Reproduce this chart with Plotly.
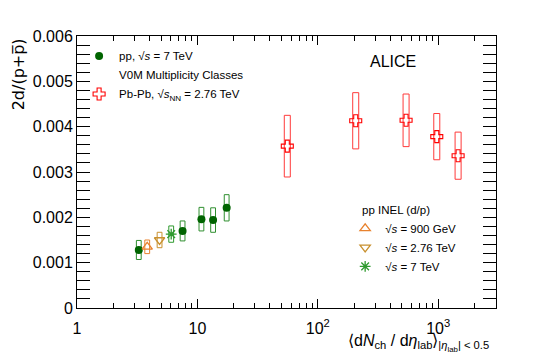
import plotly.graph_objects as go

# pp 7 TeV, V0M multiplicity classes
pp_x = [3.26, 7.53, 10.8, 13.5, 17.5]
pp_y = [0.00128, 0.00170, 0.00196, 0.00194, 0.00221]
pp_sys = [0.00021, 0.00022, 0.00026, 0.00027, 0.00029]

# pp INEL points
inel900_x = [3.83]
inel900_y = [0.00135]
inel900_sys = [0.00015]
inel276_x = [4.85]
inel276_y = [0.00150]
inel276_sys = [0.00017]
inel7_x = [6.06]
inel7_y = [0.00163]
inel7_sys = [0.00018]

# Pb-Pb 2.76 TeV
pbpb_x = [55.8, 206.5, 541, 973, 1463]
pbpb_y = [0.00357, 0.00413, 0.00414, 0.00378, 0.00336]
pbpb_sys = [0.00068, 0.00062, 0.00058, 0.00051, 0.00052]

x_ticks = [1, 10, 100, 1000]
x_ticktext = ["1", "10", "10<sup>2</sup>", "10<sup>3</sup>"]
x_minor = [m * d for d in [1, 10, 100, 1000] for m in range(2, 10) if m * d < 3000]
y_ticks = [0, 0.001, 0.002, 0.003, 0.004, 0.005, 0.006]
y_ticktext = ["0", "0.001", "0.002", "0.003", "0.004", "0.005", "0.006"]

FONT = "Liberation Sans, Arial, sans-serif"


def sys_boxes(xs, ys, errs, color, half=0.02):
    # closed rectangles around each point, width fixed in log units
    f = 10 ** half
    bx, by = [], []
    for x, y, e in zip(xs, ys, errs):
        bx += [x / f, x * f, x * f, x / f, x / f, None]
        by += [y - e, y - e, y + e, y + e, y - e, None]
    return go.Scatter(x=bx, y=by, mode="lines", line=dict(color=color, width=1),
                      showlegend=False, hoverinfo="skip")


fig = go.Figure()

fig.add_trace(sys_boxes(pp_x, pp_y, pp_sys, "#2f8f2f"))
fig.add_trace(sys_boxes(inel900_x, inel900_y, inel900_sys, "#e8822e"))
fig.add_trace(sys_boxes(inel276_x, inel276_y, inel276_sys, "#c8902e"))
fig.add_trace(sys_boxes(inel7_x, inel7_y, inel7_sys, "#2f9a2f"))
fig.add_trace(sys_boxes(pbpb_x, pbpb_y, pbpb_sys, "#ff3a3a", half=0.025))

# legend 1
fig.add_trace(go.Scatter(x=pp_x, y=pp_y, mode="markers", name="pp, √<i>s</i> = 7 TeV",
                         marker=dict(symbol="circle", size=8, color="#006400"),
                         legend="legend"))
fig.add_trace(go.Scatter(x=[None], y=[None], mode="markers", name="V0M Multiplicity Classes",
                         marker=dict(size=1, color="rgba(0,0,0,0)"), legend="legend"))
fig.add_trace(go.Scatter(x=pbpb_x, y=pbpb_y, mode="markers",
                         name="Pb-Pb, √<i>s</i><sub>NN</sub> = 2.76 TeV",
                         marker=dict(symbol="cross-open", size=10, color="#ff0000",
                                     line=dict(width=1.1, color="#ff0000")),
                         legend="legend"))

# legend 2
fig.add_trace(go.Scatter(x=inel900_x, y=inel900_y, mode="markers", name="√<i>s</i> = 900 GeV",
                         marker=dict(symbol="triangle-up-open", size=9, color="#e8822e",
                                     line=dict(width=1.3, color="#e8822e")),
                         legend="legend2"))
fig.add_trace(go.Scatter(x=inel276_x, y=inel276_y, mode="markers", name="√<i>s</i> = 2.76 TeV",
                         marker=dict(symbol="triangle-down-open", size=9, color="#c8902e",
                                     line=dict(width=1.3, color="#c8902e")),
                         legend="legend2"))
fig.add_trace(go.Scatter(x=inel7_x, y=inel7_y, mode="markers", name="√<i>s</i> = 7 TeV",
                         marker=dict(symbol="asterisk-open", size=9, color="#2f9a2f",
                                     line=dict(width=1.3, color="#2f9a2f")),
                         legend="legend2"))

# dummy trace so the minor-tick overlay axis gets drawn
fig.add_trace(go.Scatter(x=[10], y=[None], xaxis="x2", showlegend=False, hoverinfo="skip"))

# the page body adds an 8px offset, so margins are shifted up/left by 8
fig.update_layout(
    width=552, height=363,
    margin=dict(l=69, r=64, t=28, b=63),
    paper_bgcolor="white", plot_bgcolor="white",
    font=dict(family=FONT, size=16, color="black"),
    legend=dict(x=0.005, y=0.98, xanchor="left", yanchor="top",
                bgcolor="rgba(0,0,0,0)", font=dict(size=11.5), tracegroupgap=0,
                itemwidth=30),
    legend2=dict(x=0.64, y=0.346, xanchor="left", yanchor="top",
                 bgcolor="rgba(0,0,0,0)", font=dict(size=11.5), itemwidth=30),
    xaxis=dict(type="log", range=[0, 3.48], showline=True, linecolor="black",
               mirror="allticks", ticks="inside", ticklen=9, tickcolor="black",
               tickvals=x_ticks, ticktext=x_ticktext, showgrid=False, zeroline=False,
               ticklabelstandoff=6, automargin=False),
    xaxis2=dict(type="log", range=[0, 3.48], overlaying="x", anchor="y", side="bottom",
                showline=True, linecolor="black", mirror="allticks", ticks="inside",
                ticklen=5, tickcolor="black", tickvals=x_minor, showticklabels=False,
                showgrid=False, zeroline=False, automargin=False),
    yaxis=dict(range=[0, 0.006], showline=True, linecolor="black",
               mirror="allticks", ticks="inside", ticklen=13, tickcolor="black",
               tickvals=y_ticks, ticktext=y_ticktext, showgrid=False, zeroline=False,
               automargin=False,
               minor=dict(ticks="inside", ticklen=6, dtick=0.0002, tickcolor="black",
                          showgrid=False)),
    annotations=[
        dict(text="ALICE", x=0.754, y=0.905, xref="paper", yref="paper",
             xanchor="center", yanchor="middle", showarrow=False, font=dict(size=16)),
        dict(text="pp INEL (d/p)", x=0.675, y=0.36, xref="paper", yref="paper",
             xanchor="left", yanchor="middle", showarrow=False, font=dict(size=11.5)),
        dict(text="2d/(p+p\u0305)",
             x=-0.14, y=1.0, xref="paper", yref="paper",
             xanchor="center", yanchor="top", textangle=-90, showarrow=False,
             font=dict(size=16, family="DejaVu Sans")),
        dict(text="⟨d<i>N</i><sub>ch</sub> / d<i>η</i><sub>lab</sub>⟩"
                  "<sub>|<i>η</i><sub>lab</sub>| &lt; 0.5</sub>",
             x=0.988, y=-0.13, xref="paper", yref="paper", xanchor="right",
             yanchor="middle", showarrow=False, font=dict(size=16)),
    ],
)

fig.write_html("out.html")
